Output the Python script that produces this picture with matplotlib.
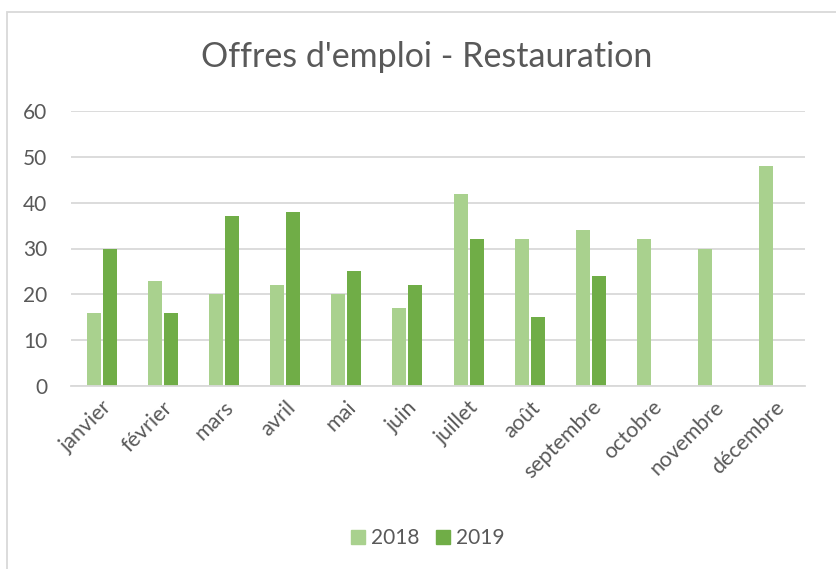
import matplotlib
matplotlib.use("Agg")
import matplotlib.pyplot as plt
from matplotlib.patches import Rectangle, Patch
import numpy as np

months = ["janvier", "février", "mars", "avril", "mai", "juin", "juillet",
          "août", "septembre", "octobre", "novembre", "décembre"]
v2018 = [16, 23, 20, 22, 20, 17, 42, 32, 34, 32, 30, 48]
v2019 = [30, 16, 37, 38, 25, 22, 32, 15, 24, np.nan, np.nan, np.nan]
yticks = [0, 10, 20, 30, 40, 50, 60]

c18 = "#A9D18E"
c19 = "#70AD47"
txt = "#595959"
grid = "#D9D9D9"

plt.rcParams['font.family'] = ['Lato', 'DejaVu Sans']

W, H = 836, 569
fig = plt.figure(figsize=(W/100, H/100), dpi=100)

# chart frame
fig.patches.append(Rectangle((7/W, -0.1), 1.2, 1.1 - 12/H, transform=fig.transFigure,
                             fill=False, edgecolor=grid, linewidth=1.3))

x0, x1 = 71, 805
y0, y1 = 386, 111
ax = fig.add_axes([x0/W, 1 - y0/H, (x1-x0)/W, (y0-y1)/H])

x = np.arange(len(months))
bw = 0.23
gap = 0.03
ax.bar(x - (bw+gap)/2, v2018, bw, color=c18, label="2018", zorder=3)
ax.bar(x + (bw+gap)/2, v2019, bw, color=c19, label="2019", zorder=3)

ax.set_xlim(-0.5, len(months) - 0.5)
ax.set_ylim(0, 60)
ax.set_yticks(yticks)
ax.set_yticklabels([str(t) for t in yticks], color=txt, fontsize=15)
ax.set_xticks(x)
ax.set_xticklabels(months, rotation=45, ha="right", va="top",
                   rotation_mode="anchor", color=txt, fontsize=15.5)
ax.tick_params(axis="both", length=0)
ax.tick_params(axis="y", pad=17)
ax.tick_params(axis="x", pad=8)
ax.grid(axis="y", color=grid, linewidth=1.3, zorder=0)
for s in ["top", "right", "left"]:
    ax.spines[s].set_visible(False)
ax.spines["bottom"].set_color(grid)
ax.spines["bottom"].set_linewidth(1.3)
ax.spines["bottom"].set_zorder(4)

fig.text(427/W, 1 - 57/H, "Offres d'emploi - Restauration", ha="center", va="center",
         fontsize=24.5, color=txt)

handles = [Patch(color=c18, label="2018"), Patch(color=c19, label="2019")]
fig.legend(handles=handles, loc="center", bbox_to_anchor=(428/W, 1 - 538/H), ncol=2,
           frameon=False, fontsize=15, labelcolor=txt, handlelength=0.65, handleheight=0.65,
           handletextpad=0.3, columnspacing=0.8)

fig.savefig("out.png", dpi=100)
